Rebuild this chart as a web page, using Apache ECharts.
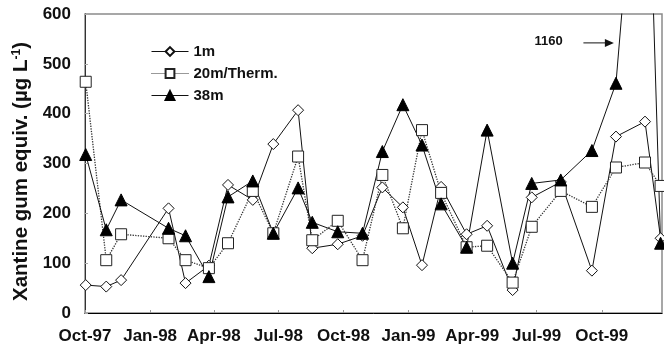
<!DOCTYPE html>
<html>
<head>
<meta charset="utf-8">
<script src="https://cdn.jsdelivr.net/npm/echarts@6/dist/echarts.min.js"></script>
<style>
html,body{margin:0;padding:0;background:#fff;}
#chart{width:664px;height:348px;}
</style>
</head>
<body>
<div id="chart"></div>
<script>
// ---- data ----
const axisStart = '1997-10-01';
const axisEnd = '1999-12-25';
const sampleDates = ['1997-10-02','1997-10-31','1997-11-21','1998-01-27','1998-02-20','1998-03-25','1998-04-21','1998-05-26','1998-06-24','1998-07-29','1998-08-18','1998-09-23','1998-10-28','1998-11-25','1998-12-24','1999-01-20','1999-02-16','1999-03-24','1999-04-22','1999-05-28','1999-06-24','1999-08-04','1999-09-17','1999-10-21','1999-12-01','1999-12-23'];
const tickDates = ['1997-10-01','1998-01-01','1998-04-01','1998-07-01','1998-10-01','1999-01-01','1999-04-01','1999-07-01','1999-10-01'];
const tickLabels = ['Oct-97','Jan-98','Apr-98','Jul-98','Oct-98','Jan-99','Apr-99','Jul-99','Oct-99'];
const seriesNames = ['1m','20m/Therm.','38m'];
const values1m  = [56,53,66,210,60,95,257,227,339,407,130,138,155,252,212,96,253,158,175,46,232,263,85,354,384,150];
const values20m = [464,106,158,150,106,90,140,245,160,314,146,185,106,277,170,367,241,132,135,61,173,245,213,292,302,255];
const values38m = [318,167,227,170,155,73,233,265,160,251,182,163,160,324,418,337,219,132,367,100,260,267,326,461,1160,140];
const yTicks = [0,100,200,300,400,500,600];
const annotationText = '1160';

// ---- helpers ----
const dayOf = d => Math.round((Date.parse(d) - Date.parse(axisStart)) / 86400000);
const sampleDays = sampleDates.map(dayOf);
const tickDays = tickDates.map(dayOf);
const pairs = vals => vals.map((v, i) => [sampleDays[i], v]);

const FONT = 'Liberation Sans, Arial, sans-serif';
const chart = echarts.init(document.getElementById('chart'), null, {renderer: 'canvas'});

const option = {
  animation: false,
  backgroundColor: '#fff',
  grid: {left: 85, right: 2, top: 14, bottom: 35, show: true, borderColor: '#8a8a8a', borderWidth: 1.5},
  legend: {
    orient: 'vertical', left: 151, top: 44, padding: 0,
    itemWidth: 37, itemHeight: 11, itemGap: 7,
    lineStyle: {width: 1},
    textStyle: {fontFamily: FONT, fontWeight: 'bold', fontSize: 15, color: '#111'},
    data: seriesNames
  },
  xAxis: {
    type: 'value', min: 0, max: dayOf(axisEnd),
    axisLine: {lineStyle: {color: '#000', width: 1}},
    axisTick: {show: true, inside: true, length: 3, customValues: tickDays, lineStyle: {color: '#999'}},
    axisLabel: {
      customValues: tickDays, margin: 15,
      fontFamily: FONT, fontWeight: 'bold', fontSize: 17, color: '#111',
      formatter: v => tickLabels[tickDays.indexOf(Math.round(v))] || ''
    },
    splitLine: {show: false}
  },
  yAxis: {
    type: 'value', min: yTicks[0], max: yTicks[yTicks.length - 1], interval: 100,
    name: 'Xantine gum equiv. (µg L{sup|-1})',
    nameLocation: 'middle', nameGap: 50, nameRotate: 90,
    nameTextStyle: {
      fontFamily: FONT, fontWeight: 'bold', fontSize: 20.5, color: '#111',
      padding: [0, 16, 0, 0],
      rich: {sup: {fontFamily: FONT, fontWeight: 'bold', fontSize: 12, color: '#111', verticalAlign: 'top', padding: [0, 0, 8, 0]}}
    },
    axisLine: {show: true, lineStyle: {color: '#333', width: 1}},
    axisTick: {show: true, inside: true, length: 3, lineStyle: {color: '#aaa'}},
    axisLabel: {margin: 14, fontFamily: FONT, fontWeight: 'bold', fontSize: 17, color: '#111'},
    splitLine: {show: false}
  },
  series: [
    {
      name: seriesNames[0], type: 'line', data: pairs(values1m), clip: true,
      symbol: 'diamond', symbolSize: 11,
      lineStyle: {color: '#111', width: 1},
      itemStyle: {color: '#fff', borderColor: '#111', borderWidth: 1}
    },
    {
      name: seriesNames[1], type: 'line', data: pairs(values20m), clip: true,
      symbol: 'rect', symbolSize: 11,
      lineStyle: {color: '#333', width: 1.3, type: 'dotted'},
      itemStyle: {color: '#fff', borderColor: '#222', borderWidth: 1}
    },
    {
      name: seriesNames[2], type: 'line', data: pairs(values38m), clip: true,
      symbol: 'triangle', symbolSize: 12,
      lineStyle: {color: '#111', width: 1},
      itemStyle: {color: '#000', borderColor: '#000', borderWidth: 1}
    }
  ]
};
chart.setOption(option);

// annotation "1160" with arrow, placed in data coordinates
const aText = chart.convertToPixel({gridIndex: 0}, [dayOf('1999-06-28'), 542]);
const aFrom = chart.convertToPixel({gridIndex: 0}, [dayOf('1999-09-05'), 542]);
const aTo = chart.convertToPixel({gridIndex: 0}, [dayOf('1999-10-18'), 542]);
chart.setOption({
  graphic: [
    {type: 'text', left: aText[0], top: aText[1] - 8, style: {text: annotationText, font: 'bold 13px ' + FONT, fill: '#111'}},
    {type: 'line', shape: {x1: aFrom[0], y1: aFrom[1], x2: aTo[0] - 6, y2: aTo[1]}, style: {stroke: '#111', lineWidth: 1}},
    {type: 'polygon', shape: {points: [[aTo[0] - 9, aTo[1] - 4], [aTo[0], aTo[1]], [aTo[0] - 9, aTo[1] + 4]]}, style: {fill: '#111'}}
  ]
});
</script>
</body>
</html>
